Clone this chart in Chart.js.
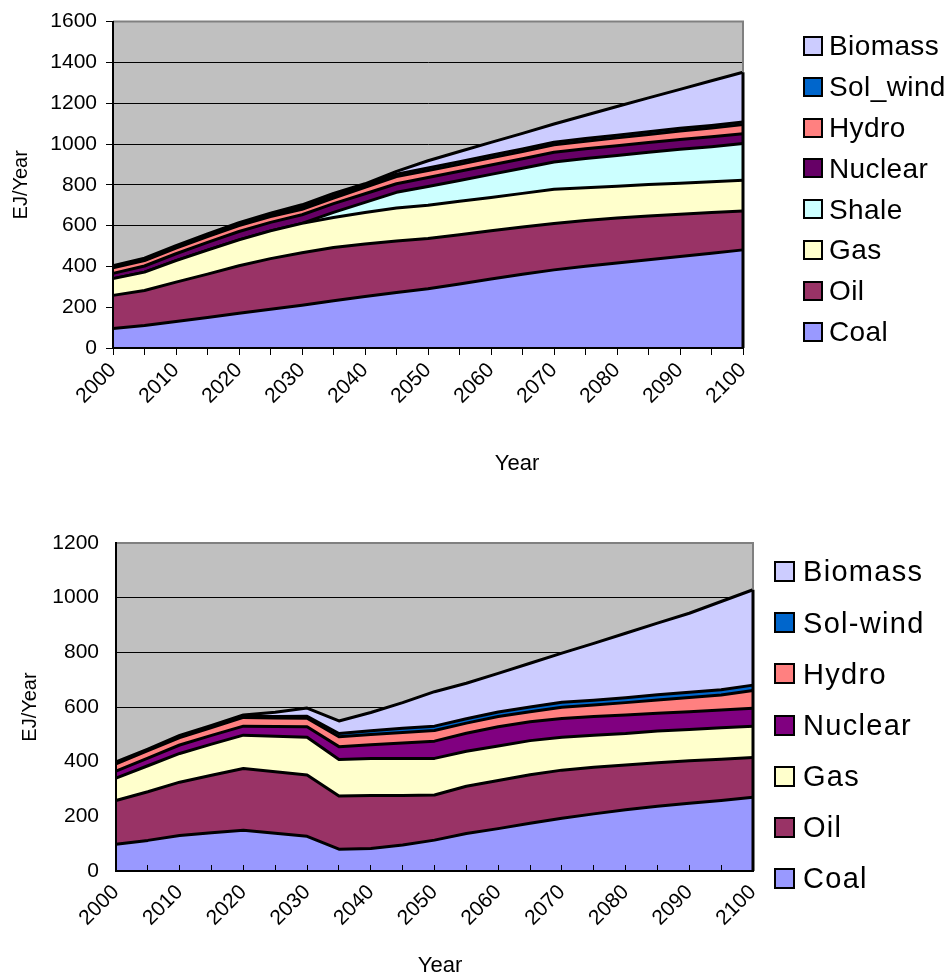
<!DOCTYPE html>
<html>
<head>
<meta charset="utf-8">
<title>Primary energy by source, EJ/Year</title>
<script src="https://cdn.jsdelivr.net/npm/chart.js@4.4.1/dist/chart.umd.min.js"></script>
<style>
  html, body { margin: 0; background: #fff; }
  #page { position: relative; width: 947px; height: 979px; font-family: "Liberation Sans", Arial, sans-serif; color: #000; }
  canvas { position: absolute; left: 0; }
  .item { position: absolute; white-space: nowrap; line-height: 1; }
  .swatch { position: absolute; box-sizing: border-box; border: 2px solid #000; }
  .xtitle { position: absolute; font-size: 22px; line-height: 1; transform: translate(-50%, -50%); }
</style>
</head>
<body>
<div id="page">
  <canvas id="chartA" width="947" height="489" style="top:0"></canvas>
  <canvas id="chartB" width="947" height="490" style="top:489px"></canvas>
  <div class="xtitle" style="left:517px;top:463px">Year</div>
  <div class="xtitle" style="left:440px;top:965px">Year</div>
</div>
<script>
const years = ['2000', '2005', '2010', '2015', '2020', '2025', '2030', '2035', '2040', '2045', '2050',
  '2055', '2060', '2065', '2070', '2075', '2080', '2085', '2090', '2095', '2100'];

// upper chart (with shale)
const coalA     = [96, 110, 130, 150, 170, 190, 210, 232, 252, 272, 290, 314, 338, 362, 383, 401, 417, 433, 449, 465, 481];
const oilA      = [162, 172, 193, 212, 233, 248, 257, 261, 258, 252, 247, 241, 237, 231, 227, 224, 220, 214, 207, 199, 190];
const gasA      = [82, 90, 105, 118, 127, 136, 144, 147, 154, 162, 163, 164, 163, 165, 168, 161, 156, 154, 152, 151, 151];
const shaleA    = [0, 0, 0, 0, 0, 0, 0, 25, 50, 77, 92, 102, 113, 123, 134, 143, 151, 158, 166, 172, 180];
const nuclearA  = [26, 30, 34, 38, 41, 42, 42, 43, 42, 42, 44, 45, 46, 47, 48, 48, 47, 48, 48, 48, 48];
const hydroA    = [27, 27, 28, 28, 29, 28, 27, 27, 31, 35, 34, 34, 35, 35, 36, 37, 39, 40, 42, 43, 45];
const solWindA  = [4, 5, 6, 7, 8, 9, 10, 11, 12, 12, 13, 13, 13, 13, 13, 13, 13, 13, 13, 13, 13];
const biomassA  = [6, 6, 6, 6, 6, 8, 12, 12, 6, 14, 35, 50, 63, 76, 89, 114, 141, 166, 191, 219, 244];

// lower chart
const coalB     = [98, 112, 130, 140, 149, 138, 127, 80, 82, 95, 113, 137, 155, 175, 193, 209, 224, 237, 248, 258, 270];
const oilB      = [160, 178, 195, 210, 226, 225, 224, 194, 194, 181, 165, 173, 176, 177, 176, 171, 164, 159, 155, 151, 145];
const gasB      = [82, 95, 105, 114, 122, 130, 138, 134, 136, 136, 134, 128, 126, 125, 120, 117, 115, 116, 115, 115, 115];
const nuclearB  = [25, 28, 31, 32, 33, 36, 39, 47, 50, 56, 63, 66, 71, 69, 69, 68, 68, 65, 65, 65, 65];
const hydroB    = [27, 27, 27, 29, 32, 31, 31, 36, 37, 39, 39, 37, 37, 37, 41, 42, 45, 49, 52, 55, 65];
const solWindB  = [2, 2, 3, 3, 4, 5, 7, 12, 14, 15, 16, 16, 17, 17, 18, 18, 18, 19, 19, 19, 20];
const biomassB  = [5, 4, 5, 5, 5, 16, 30, 46, 67, 94, 126, 130, 141, 160, 180, 208, 236, 262, 289, 323, 349];

const seriesA = [
  { label: 'Coal', data: coalA, color: '#9999ff' },
  { label: 'Oil', data: oilA, color: '#993366' },
  { label: 'Gas', data: gasA, color: '#ffffcc' },
  { label: 'Shale', data: shaleA, color: '#ccffff' },
  { label: 'Nuclear', data: nuclearA, color: '#660066' },
  { label: 'Hydro', data: hydroA, color: '#ff8080' },
  { label: 'Sol_wind', data: solWindA, color: '#0066cc' },
  { label: 'Biomass', data: biomassA, color: '#ccccff' }
];
const seriesB = [
  { label: 'Coal', data: coalB, color: '#9999ff' },
  { label: 'Oil', data: oilB, color: '#993366' },
  { label: 'Gas', data: gasB, color: '#ffffcc' },
  { label: 'Nuclear', data: nuclearB, color: '#800080' },
  { label: 'Hydro', data: hydroB, color: '#ff8080' },
  { label: 'Sol-wind', data: solWindB, color: '#0066cc' },
  { label: 'Biomass', data: biomassB, color: '#ccccff' }
];

Chart.defaults.font.family = '"Liberation Sans", Arial, sans-serif';
Chart.defaults.color = '#000';

// grey plot area + frame (grey on top/right, black where the areas touch the right edge)
const plotFrame = {
  id: 'plotFrame',
  beforeDraw(chart) {
    const { ctx, chartArea: a } = chart;
    ctx.save();
    ctx.fillStyle = '#c0c0c0';
    ctx.fillRect(a.left, a.top, a.width, a.height);
    ctx.restore();
  },
  afterDatasetsDraw(chart) {
    const { ctx, chartArea: a } = chart;
    const metas = chart.getSortedVisibleDatasetMetas();
    const top = metas[metas.length - 1].data;
    const yTop = top[top.length - 1].y;
    ctx.save();
    ctx.lineWidth = 2;
    ctx.strokeStyle = '#808080';
    ctx.beginPath();
    ctx.moveTo(a.left, a.top);
    ctx.lineTo(a.right, a.top);
    ctx.lineTo(a.right, yTop);
    ctx.stroke();
    ctx.strokeStyle = '#000';
    ctx.lineWidth = 3;
    ctx.beginPath();
    ctx.moveTo(a.right, yTop);
    ctx.lineTo(a.right, a.bottom);
    ctx.stroke();
    ctx.restore();
  }
};

function makeChart(id, series, yMax, o) {
  return new Chart(document.getElementById(id), {
    type: 'line',
    data: {
      labels: years,
      datasets: series.map((s, i) => ({
        label: s.label,
        data: s.data,
        backgroundColor: s.color,
        borderColor: '#000',
        borderWidth: 3,
        borderJoinStyle: 'round',
        fill: i === 0 ? 'origin' : '-1',
        pointRadius: 0,
        tension: 0
      }))
    },
    options: {
      responsive: false,
      animation: false,
      events: [],
      layout: { padding: o.padding },
      plugins: { legend: { display: false }, tooltip: { enabled: false } },
      scales: {
        x: {
          grid: { drawOnChartArea: false, tickLength: o.xTick, tickColor: '#000', z: o.xTickZ },
          border: { color: '#000', width: 2, z: 1 },
          ticks: {
            autoSkip: false, minRotation: 45, maxRotation: 45, padding: o.xPad,
            font: { size: 21 },
            callback: (v, i) => (i % 2 === 0 ? years[i] : '')
          },
          afterFit: s => { s.height = o.xHeight; }
        },
        y: {
          stacked: true,
          min: 0,
          max: yMax,
          ticks: { stepSize: 200, padding: o.yPad, font: { size: 21 }, callback: v => String(v) },
          grid: {
            color: c => (c.tick && c.tick.value === yMax ? 'rgba(0,0,0,0)' : '#000'),
            lineWidth: 1,
            tickLength: o.yTick,
            tickColor: '#000'
          },
          border: { color: '#000', width: 2, z: 1 },
          title: { display: true, text: 'EJ/Year', font: { size: 20 }, padding: { top: o.titlePad, bottom: 0 } },
          afterFit: s => { s.width = o.yWidth; }
        }
      }
    },
    plugins: [plotFrame]
  });
}

function makeLegend(series, o) {
  const page = document.getElementById('page');
  series.slice().reverse().forEach((s, i) => {
    const cy = o.top + i * o.step;
    const box = document.createElement('div');
    box.className = 'swatch';
    box.style.cssText = `left:${o.boxLeft}px;top:${cy - o.box / 2}px;width:${o.box}px;height:${o.box}px;background:${s.color}`;
    const txt = document.createElement('div');
    txt.className = 'item';
    txt.textContent = s.label;
    txt.style.cssText = `left:${o.textLeft}px;top:${cy - 0.49 * o.font}px;font-size:${o.font}px;letter-spacing:${o.spacing}px`;
    page.appendChild(box);
    page.appendChild(txt);
  });
}

makeChart('chartA', seriesA, 1600, {
  padding: { left: 0, right: 204, top: 20, bottom: 0 },
  xTick: 7, xTickZ: -1, xPad: 3, xHeight: 141,
  yTick: 7, yPad: 9, yWidth: 113, titlePad: 9
});
makeChart('chartB', seriesB, 1200, {
  padding: { left: 0, right: 194, top: 54, bottom: 0 },
  xTick: -6, xTickZ: 1, xPad: 15, xHeight: 108,
  yTick: -6, yPad: 23, yWidth: 116, titlePad: 18
});

makeLegend(seriesA, { top: 45.7, step: 40.9, boxLeft: 803, box: 20, textLeft: 829, font: 28, spacing: 0.4 });
makeLegend(seriesB, { top: 571.7, step: 51.1, boxLeft: 774, box: 21, textLeft: 803, font: 29, spacing: 1.3 });
</script>
</body>
</html>
